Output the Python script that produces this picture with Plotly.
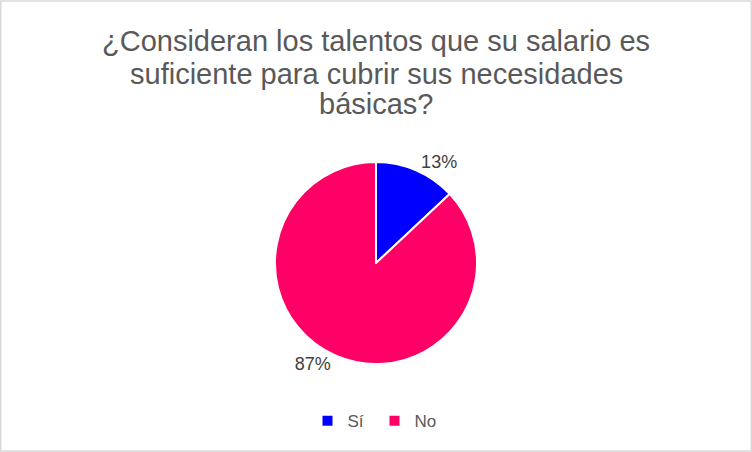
import plotly.graph_objects as go

labels = ["Sí", "No"]
values = [13, 87]
colors = ["#0000FF", "#FF0066"]
title_lines = [
    "¿Consideran los talentos que su salario es",
    "suficiente para cubrir sus necesidades",
    "básicas?",
]
title_y = [0.909, 0.837, 0.770]

FONT = "Liberation Sans, Arial, sans-serif"

fig = go.Figure(go.Pie(
    labels=labels, values=values, sort=False, direction="clockwise", rotation=0,
    marker=dict(colors=colors, line=dict(color="white", width=2)),
    textposition="outside", texttemplate="%{percent:.0%}",
    textfont=dict(family=FONT, size=18, color="#404040"),
    domain=dict(x=[0, 1], y=[0.1945, 0.6415]),
    hoverinfo="label+percent",
))

annotations = [
    dict(text=t, xref="paper", yref="paper", x=0.5, y=y, xanchor="center", yanchor="middle",
         showarrow=False, font=dict(family=FONT, size=29, color="#595959"))
    for t, y in zip(title_lines, title_y)
]

fig.update_layout(
    width=752, height=452,
    margin=dict(l=0, r=0, t=0, b=0, autoexpand=False),
    paper_bgcolor="white", plot_bgcolor="white",
    legend=dict(orientation="h", x=0.498, xanchor="center", y=0.068, yanchor="middle",
                font=dict(family=FONT, size=17, color="#595959"),
                itemwidth=30, entrywidth=22, entrywidthmode="pixels"),
    annotations=annotations,
    shapes=[dict(type="rect", xref="paper", yref="paper", x0=0.001, y0=0.002, x1=0.999, y1=0.998,
                 line=dict(color="#D9D9D9", width=1.5))],
    showlegend=True,
)

fig.write_html("out.html", config={"displayModeBar": False},
               post_script="document.body.style.margin='0px';")
